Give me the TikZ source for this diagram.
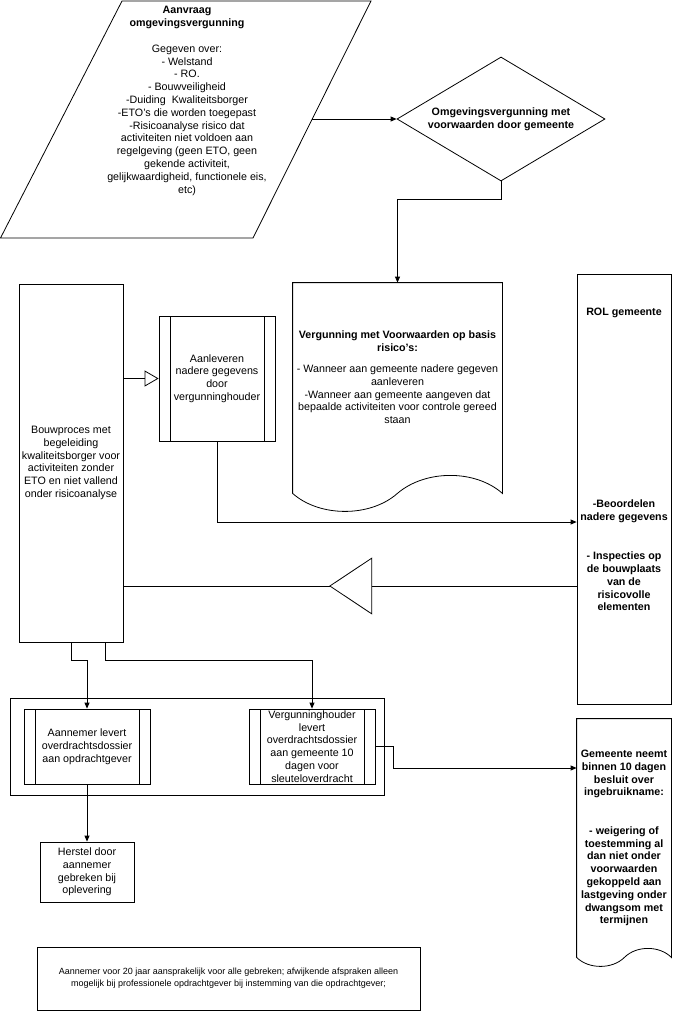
\documentclass[tikz,border=0pt]{standalone}
\usepackage{fontspec}
\setmainfont{Liberation Sans}
\usetikzlibrary{arrows.meta,shapes.geometric,decorations.markings}

\begin{document}
\begin{tikzpicture}[x=1pt,y=-1pt,line width=0.8pt,
  every node/.style={font=\fontsize{10.7pt}{12.8pt}\selectfont,align=center,inner sep=0pt},
  vet/.style={font=\fontsize{10.7pt}{12.8pt}\selectfont\bfseries},
  blok/.style={draw,rectangle},
  subproc/.style={draw,rectangle,minimum width=126pt,minimum height=75pt,
    path picture={\draw ([xshift=11pt]path picture bounding box.north west) -- ([xshift=11pt]path picture bounding box.south west)
      ([xshift=-11pt]path picture bounding box.north east) -- ([xshift=-11pt]path picture bounding box.south east);}},
  pijl/.style={-{Triangle[length=6pt,width=5pt]}},
  open pijl/.style={-{Triangle[open,length=14pt,width=16pt]}},
  inspectie/.style={postaction={decorate,decoration={markings,
    mark=at position 0.546 with {\arrow{Triangle[fill=white,length=43pt,width=57pt]}}}}}]
  \useasboundingbox (0,0) rectangle (672,1012);

  \draw (122,1) -- (371,1) -- (253,238) -- (0.5,238) -- cycle;
  \node (aanvraag) at (187,101) {\textbf{Aanvraag}\\\textbf{omgevingsvergunning}\\[12.8pt]
    Gegeven over:\\- Welstand\\- RO.\\- Bouwveiligheid\\-Duiding \ Kwaliteitsborger\\-ETO’s die worden toegepast\\
    -Risicoanalyse risico dat\\activiteiten niet voldoen aan\\regelgeving (geen ETO, geen\\gekende activiteit,\\
    gelijkwaardigheid, functionele eis,\\etc)};
  \coordinate (aanvraag-out) at (312,119);

  \node[draw,diamond,vet,aspect=1.68,minimum width=208pt,minimum height=124pt] (omg) at (501,119)
    {Omgevingsvergunning met\\voorwaarden door gemeente};

  \node[minimum width=209pt,minimum height=189pt] (verg) at (397.5,377.5)
    {\textbf{Vergunning met Voorwaarden op basis}\\\textbf{risico's:}\\[8pt]
    - Wanneer aan gemeente nadere gegeven\\aanleveren\\-Wanneer aan gemeente aangeven dat\\
    bepaalde activiteiten voor controle gereed\\staan};
  \draw (verg.north west) -- (verg.north east) -- ([yshift=-21pt]verg.south east)
    .. controls +(-27,-24) and +(28,-24) .. ++(-105,0)
    .. controls +(-27,24) and +(27,24) .. ([yshift=-21pt]verg.south west) -- cycle;

  \node[blok,minimum width=94pt,minimum height=430pt] (rol) at (624,489) {};
  \node[vet] (rol-kop) at (624,313) {ROL gemeente};
  \node[vet] (rol-beo) at (624,511) {-Beoordelen\\nadere gegevens};
  \node[vet] (rol-insp) at (624,581.5) {- Inspecties op\\de bouwplaats\\van de\\risicovolle\\elementen};
  \coordinate (beo-y) at (0,522);
  \coordinate (insp-y) at (0,586);

  \node[blok,minimum width=104pt,minimum height=358pt] (bouw) at (71,463)
    {Bouwproces met\\begeleiding\\kwaliteitsborger voor\\activiteiten zonder\\ETO en niet vallend\\onder risicoanalyse};
  \node[subproc,minimum width=116pt,minimum height=125pt] (aanlev) at (217,378.5)
    {Aanleveren\\nadere gegevens\\door\\vergunninghouder};

  \node[blok,minimum width=374pt,minimum height=97pt] (opl) at (197,746.5) {};
  \node[subproc] (aann) at (87,746.5) {Aannemer levert\\overdrachtsdossier\\aan opdrachtgever};
  \node[subproc] (vgh) at (312,746.5)
    {Vergunninghouder\\levert\\overdrachtsdossier\\aan gemeente 10\\dagen voor\\sleuteloverdracht};
  \node[blok,minimum width=94pt,minimum height=60pt] (herstel) at (87,872)
    {Herstel door\\aannemer\\gebreken bij\\oplevering};

  \node[vet,minimum width=94pt,minimum height=238pt] (gem) at (624,838)
    {Gemeente neemt\\binnen 10 dagen\\besluit over\\ingebruikname:\\[25.6pt]
    - weigering of\\toestemming al\\dan niet onder\\voorwaarden\\gekoppeld aan\\lastgeving onder\\dwangsom met\\termijnen};
  \draw (gem.north west) -- (gem.north east) -- (gem.south east)
    .. controls +(-12,-12) and +(12,-12) .. ++(-47,0)
    .. controls +(-12,12) and +(12,12) .. (gem.south west) -- cycle;
  \coordinate (gem-y) at (0,768);

  \node[blok,minimum width=383pt,minimum height=63pt,font=\fontsize{9pt}{12pt}\selectfont] (noot) at (228.5,978.5)
    {Aannemer voor 20 jaar aansprakelijk voor alle gebreken; afwijkende afspraken alleen\\
    mogelijk bij professionele opdrachtgever bij instemming van die opdrachtgever;};

  \draw[pijl] (aanvraag-out) -- (omg.west);
  \draw[pijl] (omg.south) -- ++(0,18) -| (verg.north);
  \draw[open pijl] (bouw.east |- aanlev.west) -- (aanlev.west);
  \draw[pijl] (aanlev.south) |- (rol.west |- beo-y);
  \draw[inspectie] (rol.west |- insp-y) -- (bouw.east |- insp-y);
  \draw[pijl] (bouw.south) -- ++(0,18) -| (aann.north);
  \draw[pijl] ([xshift=34pt]bouw.south) -- ++(0,18) -| (vgh.north);
  \draw[pijl] (aann.south) -- (herstel.north);
  \draw[pijl] (vgh.east) -- ++(18,0) |- (gem.west |- gem-y);
\end{tikzpicture}
\end{document}
